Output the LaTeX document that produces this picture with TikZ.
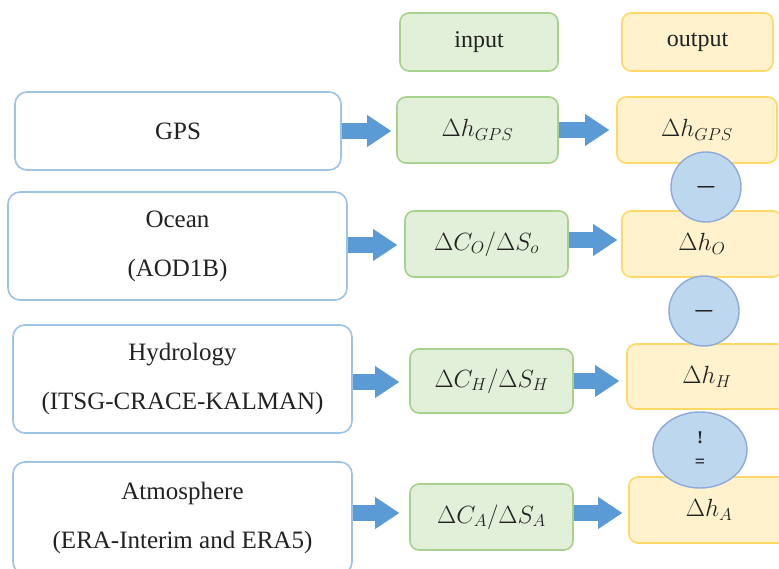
\documentclass[tikz,border=0pt]{standalone}
\usepackage{fontspec}
\setmainfont{Liberation Serif}
\usetikzlibrary{arrows.meta,shapes.geometric}
\definecolor{bbord}{HTML}{9DC3E6}
\definecolor{gfill}{HTML}{E2F0D9}
\definecolor{gbord}{HTML}{A9D18E}
\definecolor{yfill}{HTML}{FFF2CC}
\definecolor{ybord}{HTML}{FFD966}
\definecolor{cfill}{HTML}{BDD7EE}
\definecolor{cbord}{HTML}{8EAADB}
\definecolor{acol}{HTML}{5B9BD5}
\definecolor{tcol}{HTML}{222222}
\begin{document}
\begin{tikzpicture}[x=1pt,y=1pt,
  srcbox/.style={draw=bbord, fill=white, line width=1.6pt, rounded corners=12pt,
    font=\fontsize{25}{49}\selectfont, align=center, inner sep=0pt, text=tcol},
  inbox/.style={draw=gbord, fill=gfill, line width=1.6pt, rounded corners=9pt,
    inner sep=0pt, font=\fontsize{23}{26}\selectfont, text=tcol},
  outbox/.style={draw=ybord, fill=yfill, line width=1.6pt, rounded corners=9pt,
    inner sep=0pt, font=\fontsize{23}{26}\selectfont, text=tcol},
  headin/.style={inbox, font=\fontsize{24}{26}\selectfont},
  headout/.style={outbox, font=\fontsize{24}{26}\selectfont},
  opcirc/.style={circle, draw=cbord, fill=cfill, line width=1.4pt,
    minimum size=70pt, inner sep=0pt, font=\fontsize{24}{26}\selectfont\boldmath, text=tcol},
  opell/.style={ellipse, draw=cbord, fill=cfill, line width=1.4pt,
    minimum width=94pt, minimum height=76pt, inner sep=0pt, align=center,
    font=\fontsize{18}{24}\selectfont\bfseries, text=tcol},
  barrow/.style={draw=acol, line width=16pt,
    -{Triangle[width=32pt,length=24pt,line width=0pt]}}
]
\useasboundingbox (0,0) rectangle (779,568);
\clip (0,0) rectangle (779,568);
\fill[white] (0,0) rectangle (779,568);

% headers
\node[headin, minimum width=158pt, minimum height=58pt] (inh) at (479,526) {input};
\node[headout, minimum width=151pt, minimum height=58pt] (outh) at (697.5,526) {output};

% source boxes
\node[srcbox, minimum width=326pt, minimum height=78pt] (gps) at (178,437) {GPS};
\node[srcbox, minimum width=339pt, minimum height=108pt] (ocean) at (177.5,322) {Ocean\\(AOD1B)};
\node[srcbox, minimum width=339pt, minimum height=108pt] (hyd) at (182.5,189) {Hydrology\\(ITSG-CRACE-KALMAN)};
\node[srcbox, minimum width=339pt, minimum height=112pt] (atm) at (182.5,50) {Atmosphere\\(ERA-Interim and ERA5)};

% input boxes
\node[inbox, minimum width=161pt, minimum height=66pt] (in1) at (477.5,438) {$\Delta h_{GPS}$};
\node[inbox, minimum width=163pt, minimum height=66pt] (in2) at (486.5,324) {$\Delta C_O/\Delta S_o$};
\node[inbox, minimum width=163pt, minimum height=64pt] (in3) at (491.5,187) {$\Delta C_H/\Delta S_H$};
\node[inbox, minimum width=163pt, minimum height=66pt] (in4) at (491.5,51) {$\Delta C_A/\Delta S_A$};

% output boxes
\node[outbox, minimum width=160pt, minimum height=66pt] (out1) at (697,438) {$\Delta h_{GPS}$};
\node[outbox, minimum width=160pt, minimum height=66pt] (out2) at (702,324) {$\Delta h_O$};
\node[outbox, minimum width=160pt, minimum height=65pt] (out3) at (707,191.5) {$\Delta h_H$};
\node[outbox, minimum width=160pt, minimum height=66pt] (out4) at (709,58) {$\Delta h_A$};

% operators
\node[opcirc] (c1) at (706,381) {$-$};
\node[opcirc] (c2) at (704,257) {$-$};
\node[opell] (c3) at (700,118) {!\\=};

% arrows
\draw[barrow] (gps.east) -- ([xshift=-5pt]gps.east -| in1.west);
\draw[barrow] (in1.east) -- ([xshift=-7pt]in1.east -| out1.west);
\draw[barrow] ([yshift=1pt]ocean.east) -- ([xshift=-7pt,yshift=1pt]ocean.east -| in2.west);
\draw[barrow] ([yshift=4pt]in2.east) -- ([xshift=-4pt,yshift=4pt]in2.east -| out2.west);
\draw[barrow] ([yshift=-3pt]hyd.east) -- ([xshift=-10pt,yshift=-3pt]hyd.east -| in3.west);
\draw[barrow] (in3.east) -- ([xshift=-7pt]in3.east -| out3.west);
\draw[barrow] ([yshift=5pt]atm.east) -- ([xshift=-10pt,yshift=5pt]atm.east -| in4.west);
\draw[barrow] ([yshift=4pt]in4.east) -- ([xshift=-6pt,yshift=4pt]in4.east -| out4.west);
\end{tikzpicture}
\end{document}
